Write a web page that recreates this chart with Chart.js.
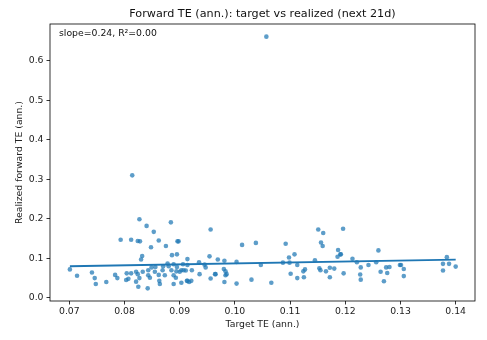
<!DOCTYPE html>
<html lang="en">

<head>
    <meta charset="UTF-8">
    <title>Forward TE</title>
    <style>
        body { margin: 0; background: #fff; }
        .grafico { width: 487px; height: 340px; }
    </style>
</head>

<body>
    <div class="grafico">
        <canvas id="myChart" width="487" height="340"></canvas>
    </div>
</body>

</html>

<script src="https://cdn.jsdelivr.net/npm/chart.js"></script>
<script>

    // target TE (x) and realized TE over the next 21d (y), one entry per point
    const targetTE = [
        0.0814, 0.0827, 0.0840, 0.0884, 0.0853, 0.0793, 0.0812, 0.0824, 0.0828, 0.0862,
        0.0896, 0.0898, 0.0848, 0.0875, 0.0886, 0.0895, 0.0832, 0.0830, 0.0914, 0.0701,
        0.0714, 0.0741, 0.0746, 0.0748, 0.0767, 0.0783, 0.0787, 0.0804, 0.0807, 0.0803,
        0.0812, 0.0821, 0.0824, 0.0821, 0.0827, 0.0825, 0.0842, 0.0833, 0.0843, 0.0843,
        0.0846, 0.0849, 0.0856, 0.0855, 0.0863, 0.0864, 0.0862, 0.0870, 0.0869, 0.0873,
        0.0878, 0.0880, 0.0885, 0.0889, 0.0893, 0.0889, 0.0895, 0.0894, 0.0900, 0.0889,
        0.0903, 0.0911, 0.0914, 0.0906, 0.0914,
        0.0956, 0.1013, 0.1038, 0.1092, 0.1098, 0.1108, 0.1151, 0.0954, 0.0969, 0.0981,
        0.1003, 0.0935, 0.0945, 0.0947, 0.0903, 0.0907, 0.0922, 0.0936, 0.0956, 0.0964,
        0.0965, 0.0980, 0.0983, 0.0985, 0.0983, 0.0981, 0.1003, 0.1030, 0.1047, 0.1066,
        0.1087, 0.1099, 0.1101, 0.1113, 0.1113, 0.1124, 0.1127, 0.1125, 0.1145, 0.0913,
        0.0917, 0.0921,
        0.1160, 0.1196, 0.1156, 0.1159, 0.1187, 0.1186, 0.1191, 0.1192, 0.1153, 0.1155,
        0.1165, 0.1172, 0.1180, 0.1172, 0.1197, 0.1213, 0.1221, 0.1228, 0.1227, 0.1228,
        0.1242, 0.1256, 0.1260, 0.1264, 0.1270, 0.1274, 0.1276, 0.1280, 0.1299, 0.1301,
        0.1306, 0.1306, 0.1377, 0.1384, 0.1388, 0.1377, 0.1400,
        0.1057
    ];

    const realizedTE = [
        0.310, 0.199, 0.182, 0.191, 0.167, 0.147, 0.147, 0.144, 0.143, 0.145,
        0.143, 0.143, 0.128, 0.131, 0.108, 0.110, 0.106, 0.097, 0.098, 0.072,
        0.056, 0.064, 0.050, 0.035, 0.040, 0.058, 0.050, 0.062, 0.048, 0.045,
        0.062, 0.066, 0.060, 0.041, 0.050, 0.028, 0.024, 0.066, 0.070, 0.057,
        0.051, 0.077, 0.078, 0.066, 0.043, 0.035, 0.058, 0.080, 0.070, 0.057,
        0.087, 0.080, 0.070, 0.057, 0.051, 0.085, 0.078, 0.067, 0.066, 0.035,
        0.038, 0.069, 0.043, 0.085, 0.083,
        0.173, 0.134, 0.139, 0.137, 0.102, 0.110, 0.173, 0.105, 0.097, 0.094,
        0.091, 0.090, 0.084, 0.077, 0.070, 0.070, 0.070, 0.060, 0.049, 0.060,
        0.060, 0.073, 0.067, 0.060, 0.057, 0.040, 0.036, 0.046, 0.083, 0.038,
        0.089, 0.089, 0.061, 0.083, 0.050, 0.067, 0.072, 0.052, 0.095, 0.043,
        0.040, 0.043,
        0.164, 0.175, 0.140, 0.131, 0.121, 0.104, 0.110, 0.110, 0.075, 0.070,
        0.067, 0.076, 0.074, 0.052, 0.062, 0.099, 0.090, 0.077, 0.059, 0.046,
        0.083, 0.090, 0.120, 0.066, 0.042, 0.077, 0.063, 0.078, 0.083, 0.083,
        0.073, 0.055, 0.086, 0.103, 0.086, 0.069, 0.079,
        0.661
    ];

    // fitted line, as printed in the corner
    const fitSlope = 0.24;
    const fitIntercept = 0.0632;
    const fitLabel = 'slope=0.24, R²=0.00';

    const xTicks = [0.07, 0.08, 0.09, 0.10, 0.11, 0.12, 0.13, 0.14];
    const yTicks = [0.0, 0.1, 0.2, 0.3, 0.4, 0.5, 0.6];

    const pontos = targetTE.map((x, i) => ({ x: x, y: realizedTE[i] }));
    const xMin = Math.min(...targetTE);
    const xMax = Math.max(...targetTE);
    const linha = [
        { x: xMin, y: fitIntercept + fitSlope * xMin },
        { x: xMax, y: fitIntercept + fitSlope * xMax }
    ];

    const fonte = 'DejaVu Sans';

    // title, corner note and the four spines, like matplotlib
    const moldura = {
        id: 'moldura',
        afterDraw(chart) {
            const c = chart.ctx;
            const a = chart.chartArea;
            c.save();
            c.strokeStyle = '#000';
            c.lineWidth = 0.8;
            c.strokeRect(a.left, a.top, a.right - a.left, a.bottom - a.top);

            c.fillStyle = '#111';
            c.font = '11.2px "' + fonte + '"';
            c.textAlign = 'center';
            c.textBaseline = 'middle';
            c.fillText('Forward TE (ann.): target vs realized (next 21d)', (a.left + a.right) / 2, 14);

            c.font = '9.3px "' + fonte + '"';
            c.textAlign = 'left';
            c.fillText(fitLabel, a.left + 9, 33.5);
            c.restore();
        }
    };

    const ctx = document.getElementById('myChart');

    new Chart(ctx, {
        type: 'scatter',
        data: {
            datasets: [
                {
                    type: 'line',
                    data: linha,
                    borderColor: '#1f77b4',
                    borderWidth: 1.9,
                    pointRadius: 0,
                    fill: false,
                    order: 0
                },
                {
                    data: pontos,
                    backgroundColor: 'rgba(31, 119, 180, 0.72)',
                    borderWidth: 0,
                    pointRadius: 2.3,
                    order: 1
                }
            ]
        },
        options: {
            responsive: false,
            animation: false,
            events: [],
            layout: { padding: { top: 24, right: 12, left: 0, bottom: 0 } },
            plugins: {
                legend: { display: false },
                tooltip: { enabled: false }
            },
            scales: {
                x: {
                    type: 'linear',
                    min: 0.0665,
                    max: 0.1435,
                    afterFit(scale) { scale.height = 39; },
                    afterBuildTicks(scale) { scale.ticks = xTicks.map(v => ({ value: v })); },
                    border: { display: false },
                    grid: { drawOnChartArea: false, tickLength: 3.5, color: '#000', tickWidth: 0.8 },
                    ticks: {
                        padding: 2,
                        color: '#222',
                        font: { family: fonte, size: 9.3 },
                        callback: v => v.toFixed(2)
                    },
                    title: {
                        display: true,
                        text: 'Target TE (ann.)',
                        color: '#222',
                        font: { family: fonte, size: 9.3 },
                        padding: { top: 0, bottom: 10 }
                    }
                },
                y: {
                    type: 'linear',
                    min: -0.008,
                    max: 0.693,
                    afterFit(scale) { scale.width = 50; },
                    afterBuildTicks(scale) { scale.ticks = yTicks.map(v => ({ value: v })); },
                    border: { display: false },
                    grid: { drawOnChartArea: false, tickLength: 3.5, color: '#000', tickWidth: 0.8 },
                    ticks: {
                        padding: 3,
                        color: '#222',
                        font: { family: fonte, size: 9.3 },
                        callback: v => v.toFixed(1)
                    },
                    title: {
                        display: true,
                        text: 'Realized forward TE (ann.)',
                        color: '#222',
                        font: { family: fonte, size: 9.3 },
                        padding: { top: 14, bottom: 0 }
                    }
                }
            }
        },
        plugins: [moldura]
    });
</script>
